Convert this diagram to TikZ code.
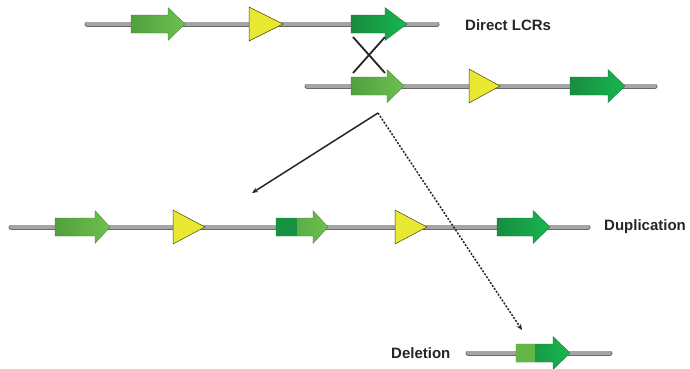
\documentclass[tikz,border=0pt]{standalone}
\usepackage{fontspec}
\setmainfont{Liberation Sans}
\usetikzlibrary{arrows.meta}
\definecolor{lgA}{RGB}{80,160,62}
\definecolor{lgB}{RGB}{110,192,78}
\definecolor{dgA}{RGB}{24,140,64}
\definecolor{dgB}{RGB}{24,182,80}
\definecolor{yel}{RGB}{232,232,50}
\definecolor{chrom}{RGB}{165,165,165}
\definecolor{chromedge}{RGB}{105,105,105}
\tikzset{
  chromline/.style={line width=5pt,draw=chromedge,line cap=round},
  chromfill/.style={line width=3.2pt,draw=chrom,line cap=round},
  lightgene/.style={left color=lgA,right color=lgB,draw=lgA!80!black,line width=0.3pt},
  darkgene/.style={left color=dgA,right color=dgB,draw=dgA!80!black,line width=0.3pt},
  lightbox/.style={fill=lgB!70!lgA,draw=none},
  darkbox/.style={fill=dgA!85!dgB,draw=none},
  yeltri/.style={fill=yel,draw=black!70!yel,line width=0.5pt},
  label/.style={font=\bfseries\fontsize{15}{17}\selectfont,text=black!85,anchor=west,inner sep=0pt},
  xline/.style={line width=1.8pt,draw=black!85},
  conn/.style={line width=1.5pt,draw=black!85,-{Stealth[length=6pt,width=5pt]}},
}
% gene arrow: #1 body left, #2 head start, #3 tip, #4 y, #5 style
\newcommand\garrow[5]{\path[#5] (#1,#4-9) -- (#2,#4-9) -- (#2,#4-16.5) -- (#3,#4) -- (#2,#4+16.5) -- (#2,#4+9) -- (#1,#4+9) -- cycle;}
% triangle: #1 left, #2 tip, #3 y
\newcommand\ytri[3]{\path[yeltri] (#1,#3-17) -- (#2,#3) -- (#1,#3+17) -- cycle;}
\newcommand\chrom[3]{\draw[chromline] (#1,#3) -- (#2,#3); \draw[chromfill] (#1,#3) -- (#2,#3);}
\begin{document}
\begin{tikzpicture}[x=1pt,y=-1pt]
\useasboundingbox (0,0) rectangle (690,368);
% Row 1
\chrom{87}{437}{24}
\garrow{131}{168}{185}{24}{lightgene}
\ytri{249}{283}{24}
\garrow{351}{385}{407}{24}{darkgene}
% Row 2
\chrom{307}{655}{86}
\garrow{351}{387}{404}{86}{lightgene}
\ytri{469}{500}{86}
\garrow{570}{608}{625}{86}{darkgene}
% crossover
\coordinate (xa) at (353,37); \coordinate (xb) at (385,73);
\coordinate (xc) at (385,37); \coordinate (xd) at (353,73);
\draw[xline] (xa) -- (xb);
\draw[xline] (xc) -- (xd);
% Row 3
\chrom{11}{588}{227}
\garrow{55}{95}{110}{227}{lightgene}
\ytri{173}{205}{227}
\garrow{276}{313}{328}{227}{lightgene}
\fill[darkbox] (276,218) rectangle (297,236);
\ytri{395}{427}{227}
\garrow{497}{533}{550}{227}{darkgene}
% Row 4
\chrom{468}{610}{353}
\garrow{516}{553}{570}{353}{darkgene}
\fill[lightbox] (516,344) rectangle (535,362);
% connectors
\coordinate (apex) at (378,113);
\coordinate (dupend) at (252,193);
\coordinate (delend) at (522,330);
\draw[conn] (apex) -- (dupend);
\draw[conn,dash pattern=on 2pt off 1.5pt] (apex) -- (delend);
% labels
\node[label] (lcr) at (465,25) {Direct LCRs};
\node[label] (dup) at (604,227) {Duplication};
\node[label] (del) at (391,353) {Deletion};
\end{tikzpicture}
\end{document}
